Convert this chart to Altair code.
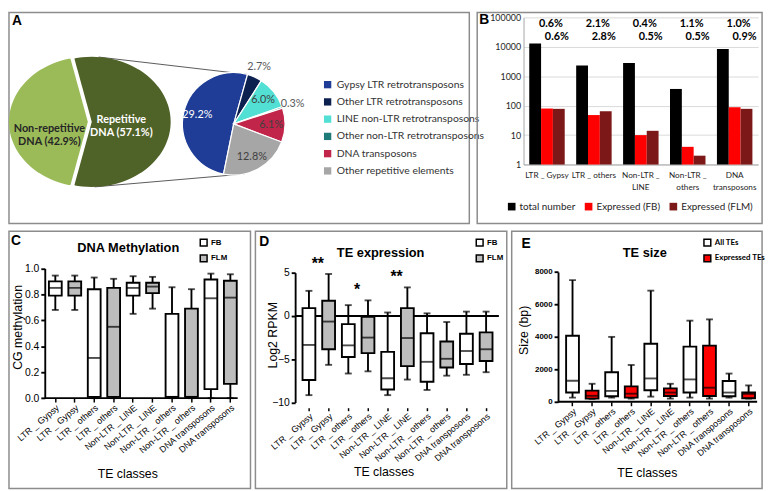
import math
import altair as alt
import pandas as pd

ARIAL = "Liberation Sans"
CAL = "Lato"

# ---------------- data ----------------
panel_letters = ["A", "B", "C", "D", "E"]
panel_titles = ["DNA Methylation", "TE expression", "TE size"]

# A: genome composition
genome_parts = ["Non-repetitive DNA", "Repetitive DNA"]
genome_pct = [42.9, 57.1]
genome_labels = ["Non-repetitive\nDNA (42.9%)", "Repetitive\nDNA (57.1%)"]
genome_colors = ["#9bbb59", "#4f6228"]

te_types = ["Gypsy LTR retrotransposons", "Other LTR retrotransposons",
            "LINE non-LTR retrotransposons", "Other non-LTR retrotransposons",
            "DNA transposons", "Other repetitive elements"]
te_pct = [29.2, 2.7, 6.0, 0.3, 6.1, 12.8]
te_labels = ["29.2%", "2.7%", "6.0%", "0.3%", "6.1%", "12.8%"]
te_colors = ["#1f3d96", "#0d2150", "#52e0d5", "#1f7b78", "#c1264a", "#a6a6a6"]

# B: TE counts
b_classes = ["LTR _ Gypsy", "LTR _ others", "Non-LTR _|LINE", "Non-LTR _|others", "DNA|transposons"]
b_series = ["total number", "Expressed (FB)", "Expressed (FLM)"]
b_colors = ["#000000", "#ff0000", "#7d1818"]
total_number = [13000, 2300, 2800, 370, 8500]
expressed_fb = [80, 48, 10, 4, 88]
expressed_flm = [78, 65, 14, 2, 78]
pct_fb = ["0.6%", "2.1%", "0.4%", "1.1%", "1.0%"]
pct_flm = ["0.6%", "2.8%", "0.5%", "0.5%", "0.9%"]

# C/D/E: box plots (two boxes per class)
te_classes = ["LTR _ Gypsy", "LTR _ others", "Non-LTR _ LINE", "Non-LTR _ others", "DNA transposons"]

meth_groups = ["FB", "FLM"]
meth_lo = [0.68, 0.68, 0.00, 0.00, 0.65, 0.69, 0.00, 0.00, 0.00, 0.00]
meth_q1 = [0.79, 0.79, 0.01, 0.01, 0.79, 0.81, 0.01, 0.01, 0.07, 0.11]
meth_med = [0.85, 0.85, 0.31, 0.55, 0.85, 0.86, 0.01, 0.01, 0.77, 0.775]
meth_q3 = [0.90, 0.90, 0.84, 0.85, 0.89, 0.89, 0.65, 0.69, 0.915, 0.905]
meth_hi = [0.945, 0.945, 0.93, 0.92, 0.94, 0.935, 0.855, 0.84, 0.96, 0.955]

expr_groups = ["FB", "FLM"]
expr_lo = [-9.15, -5.65, -6.65, -6.4, -9.15, -7.35, -8.55, -6.9, -6.8, -6.5]
expr_q1 = [-7.4, -3.85, -4.75, -4.3, -8.5, -5.8, -7.6, -5.95, -5.55, -5.2]
expr_med = [-3.35, -0.65, -3.4, -2.5, -7.2, -2.55, -5.3, -4.95, -4.05, -3.85]
expr_q3 = [0.9, 1.75, -0.95, -0.1, -4.15, 0.9, -2.0, -2.95, -2.05, -1.9]
expr_hi = [2.9, 4.85, 1.25, 1.8, 0.4, 3.3, 0.3, -0.7, 0.5, 0.5]
expr_sig = ["**", "*", "**", "", ""]

size_groups = ["All TEs", "Expressed TEs"]
size_lo = [260, 180, 260, 200, 320, 200, 260, 200, 260, 200]
size_q1 = [570, 200, 340, 260, 710, 360, 570, 360, 340, 220]
size_med = [1300, 370, 670, 500, 1440, 570, 1380, 870, 570, 490]
size_q3 = [4070, 690, 1820, 950, 3580, 830, 3400, 3460, 1280, 570]
size_hi = [7500, 1110, 4000, 2270, 6850, 1110, 5000, 5080, 1740, 1010]


def one(**kw):
    return alt.Chart(pd.DataFrame([kw]))


def letter(ch, x, y):
    return one(t=ch).mark_text(font=ARIAL, fontSize=14, fontWeight="bold", align="left",
                               baseline="top", color="black").encode(
        text="t:N", x=alt.value(x), y=alt.value(y))


# ---------------- panel A ----------------
AW, AH = 467, 214
cy_big, rx_big, ry_big = 111, 80, 66
cx_light, cx_dark = 80, 84
beta = math.pi * genome_pct[1] / 100 - math.pi / 2
slope = rx_big * math.tan(beta) / ry_big
ycut = ry_big * math.cos(beta)
ex = f"{rx_big}*sqrt(max(0, 1 - pow(datum.dy/{ry_big}, 2)))"
ch = f"abs(datum.dy)*{slope}"
seq = alt.sequence(-ry_big, ry_big + 0.001, 0.5, as_="dy")

light = alt.Chart(seq).transform_filter(f"abs(datum.dy) <= {ycut}").transform_calculate(
    py=f"{cy_big} + datum.dy", px=f"{cx_light} - {ex}", px2=f"{cx_light} - {ch}"
).mark_area(orient="horizontal", color=genome_colors[0]).encode(
    y=alt.Y("py:Q", scale=None, axis=None), x=alt.X("px:Q", scale=None, axis=None), x2="px2:Q")
dark = alt.Chart(seq).transform_calculate(
    py=f"{cy_big} + datum.dy",
    px=f"abs(datum.dy) <= {ycut} ? {cx_dark} - {ch} : {cx_dark} - {ex}",
    px2=f"{cx_dark} + {ex}"
).mark_area(orient="horizontal", color=genome_colors[1]).encode(
    y=alt.Y("py:Q", scale=None, axis=None), x=alt.X("px:Q", scale=None, axis=None), x2="px2:Q")

g_df = pd.DataFrame({"part": genome_parts, "pct": genome_pct, "lab": genome_labels})
g_light_txt = alt.Chart(g_df).transform_filter(alt.datum.part == genome_parts[0]).mark_text(
    font=CAL, fontSize=11, fontWeight="bold", color="#262626", lineBreak="\n", lineHeight=13,
    align="center", baseline="middle").encode(text="lab:N", x=alt.value(41), y=alt.value(118))
g_dark_txt = alt.Chart(g_df).transform_filter(alt.datum.part == genome_parts[1]).mark_text(
    font=CAL, fontSize=11, fontWeight="bold", color="white", lineBreak="\n", lineHeight=13,
    align="center", baseline="middle").encode(text="lab:N", x=alt.value(114), y=alt.value(109))

cxs, cys, rs = 228, 113, 52
start_small = math.radians(191.5)
te_df = pd.DataFrame({"type": te_types, "pct": te_pct, "lab": te_labels, "order": range(len(te_types))})
small_base = alt.Chart(te_df).transform_joinaggregate(total="sum(pct)").transform_window(
    cum="sum(pct)", sort=[alt.SortField("order")]).transform_calculate(
    t0=f"{start_small} + 2*PI*(datum.cum - datum.pct)/datum.total",
    t1=f"{start_small} + 2*PI*datum.cum/datum.total",
    tm="(datum.t0 + datum.t1)/2")
small_pie = small_base.mark_arc(radius=rs, stroke="white", strokeWidth=1.2).encode(
    theta=alt.Theta("t0:Q", scale=None), theta2="t1:Q",
    color=alt.Color("type:N", scale=alt.Scale(domain=te_types, range=te_colors),
                    legend=alt.Legend(orient="none", legendX=318, legendY=68, title=None,
                                      symbolType="square", symbolSize=55, symbolStrokeWidth=0,
                                      labelFont=CAL, labelFontSize=10.5, labelColor="#333333",
                                      rowPadding=6.5, labelOffset=4)),
    x=alt.value(cxs), y=alt.value(cys))
small_in = small_base.transform_filter("datum.pct >= 3").mark_text(
    font=CAL, fontSize=11, radius=38).encode(
    theta=alt.Theta("tm:Q", scale=None), text="lab:N",
    color=alt.condition("datum.pct > 20", alt.value("white"), alt.value("#404040")),
    x=alt.value(cxs), y=alt.value(cys))
small_out = small_base.transform_filter("datum.pct < 3").mark_text(
    font=CAL, fontSize=11, radius=63, color="#595959").encode(
    theta=alt.Theta("tm:Q", scale=None), text="lab:N", x=alt.value(cxs), y=alt.value(cys))

a_top = math.radians(5)
a_bot = math.radians(178)
s_top = start_small + 2 * math.pi * te_pct[0] / sum(te_pct)
s_bot = math.radians(168)
conn_top = one(k=0).mark_rule(color="#595959", strokeWidth=1).encode(
    x=alt.value(cx_dark + rx_big * math.sin(a_top)), y=alt.value(cy_big - ry_big * math.cos(a_top)),
    x2=alt.value(cxs + rs * math.sin(s_top)), y2=alt.value(cys - rs * math.cos(s_top)))
conn_bot = one(k=0).mark_rule(color="#595959", strokeWidth=1).encode(
    x=alt.value(cx_dark + rx_big * math.sin(a_bot)), y=alt.value(cy_big - ry_big * math.cos(a_bot)),
    x2=alt.value(cxs + rs * math.sin(s_bot)), y2=alt.value(cys - rs * math.cos(s_bot)))

panelA = alt.layer(conn_top, conn_bot, light, dark, g_light_txt, g_dark_txt,
                   small_pie, small_in, small_out, letter(panel_letters[0], 3, 2)).properties(
    width=AW, height=AH)

# ---------------- panel B ----------------
BW, BH = 289, 214
b_rows = []
for i, c in enumerate(b_classes):
    for s, vals in zip(b_series, [total_number, expressed_fb, expressed_flm]):
        b_rows.append(dict(cls=c, series=s, value=vals[i]))
b_df = pd.DataFrame(b_rows)
pct_df = pd.DataFrame(dict(cls=b_classes, fb=pct_fb, flm=pct_flm))
b_y0, b_y1 = 154.3, 5
XB = alt.X("cls:N", scale=alt.Scale(domain=b_classes, range=[47, 285], paddingInner=0.244, paddingOuter=0.122),
           axis=alt.Axis(labelExpr="split(datum.value, '|')", labelAngle=0, labelFont=CAL, labelFontSize=8.3,
                         labelColor="#262626", labelPadding=6, labelLineHeight=12, ticks=False,
                         labelOverlap=False, labelLimit=80,
                         domainColor="#a6a6a6", domainWidth=1, offset=-(BH - b_y0), title=None, grid=False))
YB = alt.Y("value:Q", scale=alt.Scale(type="log", domain=[1, 100000], range=[b_y0, b_y1], nice=False),
           axis=alt.Axis(values=[1, 10, 100, 1000, 10000, 100000], format="d", offset=-47, ticks=False,
                         grid=True, gridColor="#d9d9d9", gridWidth=1, domainColor="#a6a6a6",
                         labelFont=CAL, labelFontSize=9, labelColor="#262626", labelPadding=3, title=None))
bars = alt.Chart(b_df).mark_bar().encode(
    x=XB,
    xOffset=alt.XOffset("series:N", scale=alt.Scale(domain=b_series, paddingInner=0, paddingOuter=0)),
    y=YB, y2=alt.datum(1),
    color=alt.Color("series:N", scale=alt.Scale(domain=b_series, range=b_colors),
                    legend=alt.Legend(orient="none", direction="horizontal", legendX=30, legendY=192,
                                      title=None, symbolType="square", symbolSize=60, symbolStrokeWidth=0,
                                      labelFont=CAL, labelFontSize=10, labelColor="#262626",
                                      columnPadding=8, labelOffset=3)))
pct1 = alt.Chart(pct_df).mark_text(font=CAL, fontSize=11, fontWeight="bold", dx=4, color="black").encode(
    x=XB, y=alt.value(12), text="fb:N")
pct2 = alt.Chart(pct_df).mark_text(font=CAL, fontSize=11, fontWeight="bold", dx=10, color="black").encode(
    x=XB, y=alt.value(25), text="flm:N")
panelB = alt.layer(bars, pct1, pct2, letter(panel_letters[1], 2, 1)).properties(width=BW, height=BH)


# ---------------- box panels ----------------
def make_box_df(groups, lo, q1, med, q3, hi):
    rows = []
    for i in range(len(lo)):
        cls = te_classes[i // 2]
        g = groups[i % 2]
        rows.append(dict(key=cls + "|" + g, cls=cls, grp=g, lo=lo[i], q1=q1[i], med=med[i], q3=q3[i], hi=hi[i]))
    return pd.DataFrame(rows)


LW = 1.9


def box_panel(df, groups, fills, cfg, extra=None):
    W, H = cfg["W"], cfg["H"]
    keys = list(df["key"])
    step, c0 = cfg["step"], cfg["c0"]
    xs = alt.Scale(domain=keys, range=[c0 - step / 2, c0 - step / 2 + step * len(keys)],
                   paddingInner=0, paddingOuter=0)
    xaxis = alt.Axis(labelExpr="split(datum.value, '|')[0]", labelAngle=320, labelFont=ARIAL,
                     labelFontSize=9, labelColor="black", labelOverlap=False, labelPadding=1,
                     tickSize=cfg["xtick"], tickColor="black", tickWidth=1.5, domain=False, grid=False,
                     offset=-(H - cfg["xaxis_y"]), title="TE classes", titleFont=ARIAL, titleFontSize=12.5,
                     titleFontWeight="normal", titleColor="black", titleX=cfg["xt_x"],
                     titleY=cfg["xt_y"] - cfg["xaxis_y"], titleAlign="center", titleBaseline="middle")
    X = alt.X("key:N", scale=xs, axis=xaxis)
    ys = alt.Scale(domain=cfg["ydom"], range=cfg["yrng"], nice=False, zero=False)
    yaxis = alt.Axis(values=cfg["yvals"], format=cfg["yfmt"], offset=-cfg["yaxis_x"], tickSize=4,
                     tickColor="black", tickWidth=LW, domainColor="black", domainWidth=LW,
                     labelFont=ARIAL, labelFontSize=cfg["ylab_size"], labelFontWeight=cfg["ylab_w"],
                     labelColor="black", labelPadding=2, grid=False, title=cfg["ytitle"],
                     titleFont=ARIAL, titleFontSize=12.5, titleFontWeight="normal", titleColor="black",
                     titleX=cfg["yt_x"] - cfg["yaxis_x"], titleY=cfg["yt_y"], titleAngle=270,
                     titleAlign="center", titleBaseline="middle")

    def Y(f):
        return alt.Y(f + ":Q", scale=ys, axis=yaxis)

    legend = alt.Legend(orient="none", legendX=cfg["lg_x"], legendY=cfg["lg_y"], title=None,
                        symbolType="square", symbolSize=48, symbolStrokeColor="black", symbolStrokeWidth=1.5,
                        labelFont=cfg["lg_font"], labelFontSize=8, labelFontWeight="bold", labelColor="black",
                        rowPadding=3, labelOffset=3)
    base = alt.Chart(df)
    layers = [
        one(z=0).mark_rule(color="black", strokeWidth=LW).encode(
            y=Y("z"), x=alt.value(cfg["yaxis_x"]), x2=alt.value(cfg["base_x2"])),
        base.mark_rule(color="black", strokeWidth=LW).encode(x=X, y=Y("lo"), y2="hi"),
        base.mark_tick(color="black", thickness=LW, size=7).encode(x=X, y=Y("hi")),
        base.mark_tick(color="black", thickness=LW, size=7).encode(x=X, y=Y("lo")),
        base.mark_bar(width=13, stroke="black", strokeWidth=LW).encode(
            x=X, y=Y("q1"), y2="q3",
            color=alt.Color("grp:N", scale=alt.Scale(domain=groups, range=fills), legend=legend)),
        base.mark_tick(color="black", thickness=LW, size=13).encode(x=X, y=Y("med")),
        one(t=cfg["title"]).mark_text(font=ARIAL, fontSize=13, fontWeight="bold", color="black",
                                      align="center", baseline="middle").encode(
            text="t:N", x=alt.value(cfg["title_x"]), y=alt.value(cfg["title_y"])),
        letter(cfg["letter"], cfg["letter_x"], cfg["letter_y"]),
    ]
    if extra is not None:
        layers.append(extra(X, Y))
    return alt.layer(*layers).properties(width=W, height=H)


df_c = make_box_df(meth_groups, meth_lo, meth_q1, meth_med, meth_q3, meth_hi)
cfg_c = dict(W=245, H=261, c0=47, step=19.73, ydom=[0, 1], yrng=[169.3, 37.7], yaxis_x=36.3,
             xaxis_y=169.3, xtick=4, yvals=[0, 0.2, 0.4, 0.6, 0.8, 1.0], yfmt=".1f", ylab_size=10.5,
             ylab_w="normal", ytitle="CG methylation", yt_x=9, yt_y=97, xt_x=120, xt_y=246,
             base_x2=232, title=panel_titles[0], title_x=121, title_y=17, letter=panel_letters[2],
             letter_x=2, letter_y=3, lg_x=193, lg_y=7, lg_font=ARIAL)
panelC = box_panel(df_c, meth_groups, ["white", "#bdbdbd"], cfg_c)

df_d = make_box_df(expr_groups, expr_lo, expr_q1, expr_med, expr_q3, expr_hi)
star_rows = []
for i, s in enumerate(expr_sig):
    if s:
        star_rows.append(dict(key=te_classes[i] + "|" + expr_groups[0], sig=s,
                              top=max(expr_hi[2 * i], expr_hi[2 * i + 1])))
star_df = pd.DataFrame(star_rows)


def stars(X, Y):
    return alt.Chart(star_df).mark_text(font=ARIAL, fontSize=16, fontWeight="bold", color="black",
                                        dx=9, dy=-2, baseline="bottom").encode(x=X, y=Y("top"), text="sig:N")


cfg_d = dict(W=255, H=261, c0=54.3, step=19.97, ydom=[-10, 5], yrng=[173.7, 42], yaxis_x=40.3,
             xaxis_y=179, xtick=3, yvals=[-10, -5, 0, 5], yfmt="d", ylab_size=10.5, ylab_w="normal",
             ytitle="Log2 RPKM", yt_x=17, yt_y=105, xt_x=130, xt_y=244, base_x2=247,
             title=panel_titles[1], title_x=127, title_y=22, letter=panel_letters[3],
             letter_x=4, letter_y=4, lg_x=223, lg_y=7, lg_font=ARIAL)
panelD = box_panel(df_d, expr_groups, ["white", "#bdbdbd"], cfg_d, extra=stars)

df_e = make_box_df(size_groups, size_lo, size_q1, size_med, size_q3, size_hi)
cfg_e = dict(W=254, H=261, c0=61.7, step=19.85, ydom=[0, 8000], yrng=[173, 41.3], yaxis_x=47,
             xaxis_y=173, xtick=4, yvals=[0, 2000, 4000, 6000, 8000], yfmt="d", ylab_size=8,
             ylab_w="bold", ytitle="Size (bp)", yt_x=12, yt_y=100, xt_x=137, xt_y=245, base_x2=249,
             title=panel_titles[2], title_x=135, title_y=22, letter=panel_letters[4],
             letter_x=10, letter_y=6, lg_x=194, lg_y=7, lg_font=CAL)
panelE = box_panel(df_e, size_groups, ["white", "#ff0000"], cfg_e)

row1 = alt.hconcat(panelA, panelB, spacing=8, bounds="flush").resolve_scale(color="independent")
row2 = alt.hconcat(panelC, panelD, panelE, spacing=5, bounds="flush").resolve_scale(color="independent")
chart = alt.vconcat(row1, row2, spacing=6).resolve_scale(color="independent").properties(
    padding=0).configure_view(stroke="#8c8c8c", strokeWidth=1.5)

chart.save("out.html", embed_options={"renderer": "svg", "actions": False})
